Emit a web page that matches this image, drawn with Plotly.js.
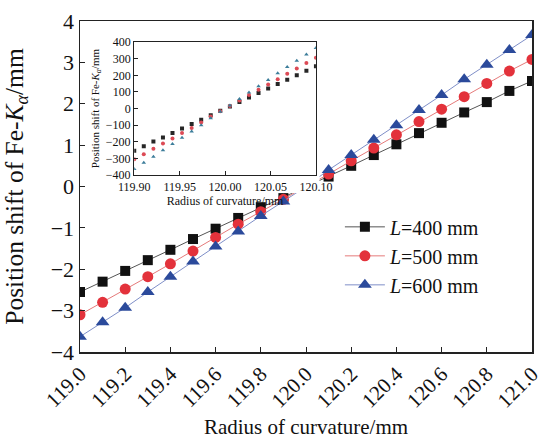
<!DOCTYPE html>
<html><head><meta charset="utf-8">
<script src="https://cdn.plot.ly/plotly-3.0.1.min.js"></script>
<style>html,body{margin:0;padding:0;background:#fff}#chart{width:552px;height:441px}</style>
</head><body><div id="chart"></div>
<script>
// Main chart data
const radius = [119.0,119.1,119.2,119.3,119.4,119.5,119.6,119.7,119.8,119.9,120.0,120.1,120.2,120.3,120.4,120.5,120.6,120.7,120.8,120.9,121.0];
const shiftL400 = [-2.55,-2.30,-2.04,-1.78,-1.53,-1.27,-1.02,-0.76,-0.50,-0.26,0,0.24,0.50,0.76,1.02,1.29,1.54,1.79,2.04,2.31,2.55];
const shiftL500 = [-3.10,-2.80,-2.48,-2.18,-1.87,-1.56,-1.23,-0.91,-0.61,-0.31,0,0.30,0.62,0.93,1.25,1.57,1.87,2.17,2.49,2.79,3.07];
const shiftL600 = [-3.63,-3.28,-2.93,-2.55,-2.18,-1.81,-1.45,-1.09,-0.71,-0.36,0,0.40,0.76,1.13,1.48,1.85,2.21,2.59,2.94,3.30,3.66];
const seriesNames = ['<i>L</i>=400 mm','<i>L</i>=500 mm','<i>L</i>=600 mm'];

// Inset data (position shift in µm)
const insetRadius = [119.9000,119.9105,119.9211,119.9316,119.9421,119.9526,119.9632,119.9737,119.9842,119.9947,120.0053,120.0158,120.0263,120.0368,120.0474,120.0579,120.0684,120.0789,120.0895,120.1000];
const insetL400 = [-255,-228,-199,-174,-147,-120,-93,-67,-40,-13,13,40,67,94,121,148,174,201,228,255];
const insetL500 = [-306,-276,-243,-210,-180,-148,-118,-84,-48,-16,16,48,82,113,145,177,210,241,274,306];
const insetL600 = [-365,-326,-290,-252,-214,-176,-138,-100,-58,-19,19,58,97,135,172,212,250,288,326,365];

const serif = 'Liberation Serif, Times New Roman, serif';
const markerColors = ['#111111','#e3323b','#2b4a9b'];
const lineColors = ['#555555','#e57a7a','#7f8fc8'];
const symbols = ['square','circle','triangle-up'];
const msizes = [10,11,12];
const insetColors = ['#262626','#dc4a55','#3c7d9a'];

const mainY = [shiftL400, shiftL500, shiftL600];
const insetY = [insetL400, insetL500, insetL600];

const traces = [];
for (let i = 0; i < 3; i++) {
  traces.push({
    x: radius, y: mainY[i], name: seriesNames[i], type: 'scatter', mode: 'lines+markers',
    line: {color: lineColors[i], width: 1},
    marker: {symbol: symbols[i], size: msizes[i], color: markerColors[i]},
    xaxis: 'x', yaxis: 'y', cliponaxis: true
  });
}
// blank cover panel behind the inset (white background)
traces.push({x: [], y: [], xaxis: 'x2', yaxis: 'y2', showlegend: false, hoverinfo: 'skip', type: 'scatter', mode: 'markers'});
for (let i = 0; i < 3; i++) {
  traces.push({
    x: insetRadius, y: insetY[i], type: 'scatter', mode: 'markers', showlegend: false,
    marker: {symbol: symbols[i], size: 4, color: insetColors[i]},
    xaxis: 'x3', yaxis: 'y3'
  });
}

const axisBase = {showgrid: false, zeroline: false, showline: true, mirror: true, linecolor: '#222', ticks: 'inside', tickcolor: '#222'};

const layout = {
  width: 552, height: 441,
  margin: {l: 80, r: 20, t: 21, b: 89},
  paper_bgcolor: '#fff', plot_bgcolor: '#fff',
  font: {family: serif, color: '#111'},
  showlegend: true,
  legend: {x: 0.575, y: 0.437, xanchor: 'left', yanchor: 'top', bgcolor: 'rgba(0,0,0,0)', font: {family: serif, size: 20, color: '#111'}, itemwidth: 40, tracegroupgap: 0},
  xaxis: Object.assign({}, axisBase, {
    domain: [0, 1], range: [119, 121], tick0: 119, dtick: 0.2, tickformat: '.1f', tickangle: -45,
    linewidth: 1.5, ticklen: 5, tickfont: {family: serif, size: 21, color: '#111'},
    title: {text: 'Radius of curvature/mm', font: {family: serif, size: 21, color: '#111'}}
  }),
  yaxis: Object.assign({}, axisBase, {
    domain: [0, 1], range: [-4, 4], dtick: 1, linewidth: 1.5, ticklen: 5,
    tickfont: {family: serif, size: 22, color: '#111'},
    title: {text: 'Position shift of Fe-<i>K</i><sub><i>α</i></sub>/mm', font: {family: serif, size: 25.5, color: '#111'}}
  }),
  xaxis2: {domain: [0.02, 0.53], anchor: 'y2', visible: false, range: [0, 1]},
  yaxis2: {domain: [0.48, 0.945], anchor: 'x2', visible: false, range: [0, 1]},
  xaxis3: Object.assign({}, axisBase, {
    domain: [0.120, 0.522], anchor: 'y3', range: [119.9, 120.1], tick0: 119.9, dtick: 0.05, tickformat: '.2f',
    linewidth: 1.2, ticklen: 4, tickfont: {family: serif, size: 12, color: '#111'},
    title: {text: 'Radius of curvature/mm', font: {family: serif, size: 12, color: '#111'}, standoff: 4}
  }),
  yaxis3: Object.assign({}, axisBase, {
    domain: [0.535, 0.936], anchor: 'x3', range: [-400, 400], dtick: 100,
    linewidth: 1.2, ticklen: 4, tickfont: {family: serif, size: 12, color: '#111'},
    title: {text: 'Position shift of Fe-<i>K</i><sub><i>α</i></sub>/mm', font: {family: serif, size: 11, color: '#111'}, standoff: 4}
  })
};

Plotly.newPlot('chart', traces, layout, {displayModeBar: false, staticPlot: true});
</script>
</body></html>
